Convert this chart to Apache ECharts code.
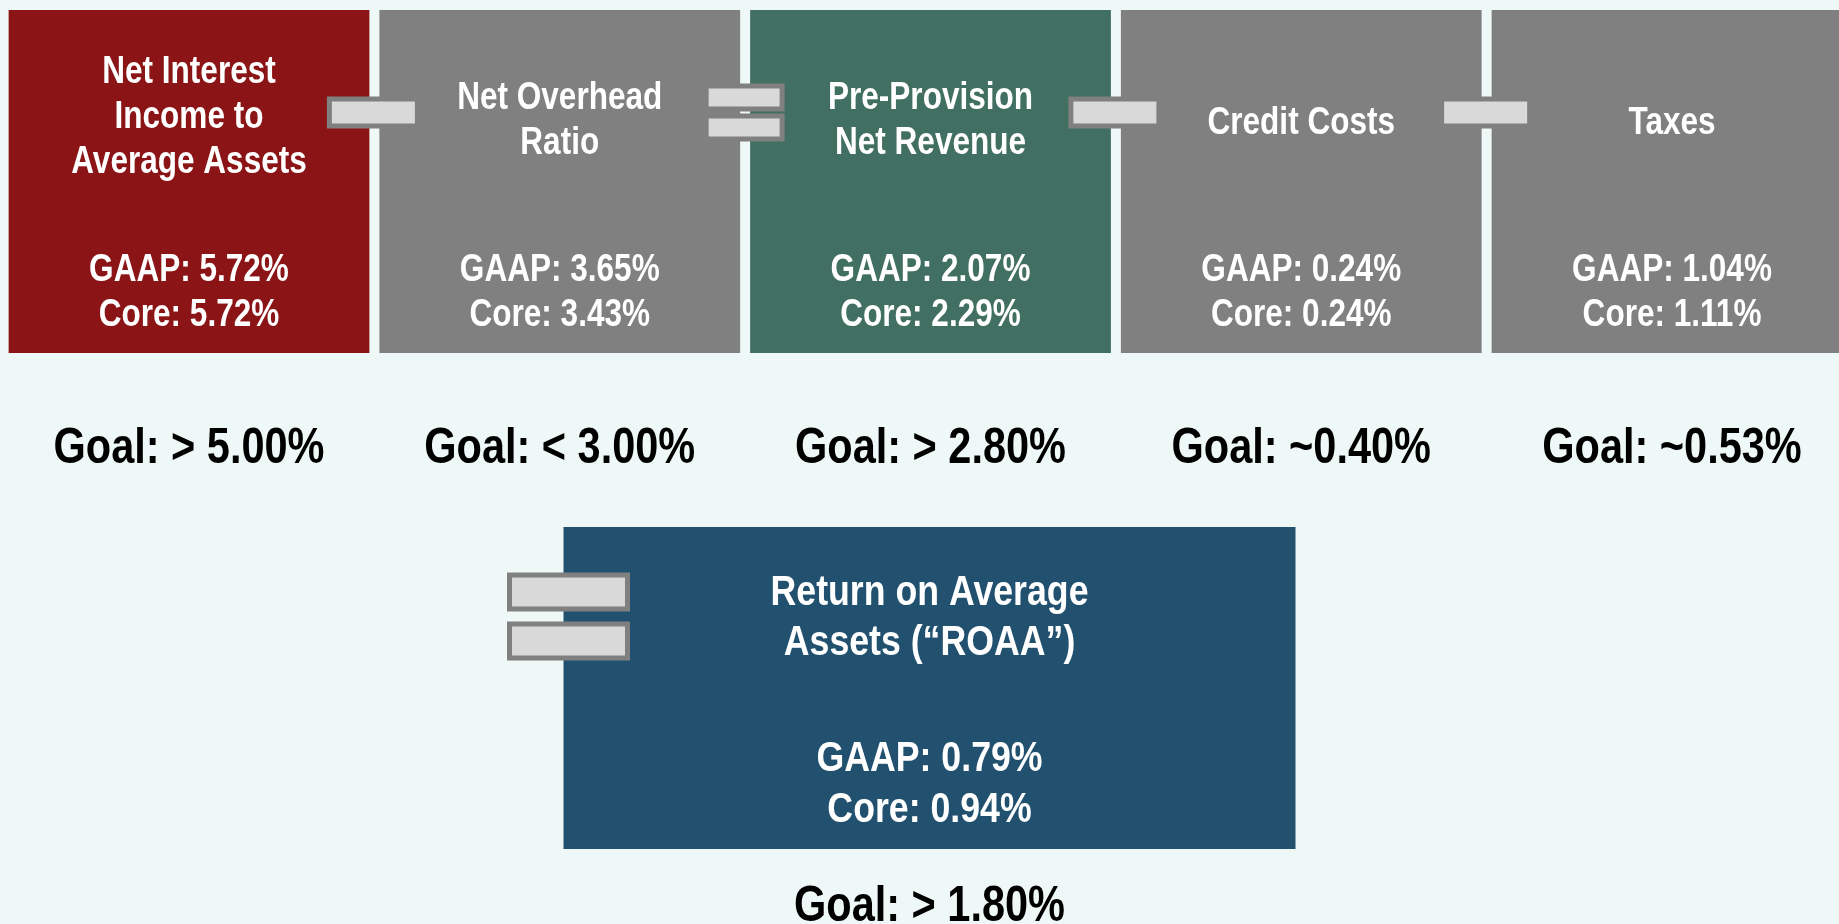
<!DOCTYPE html>
<html>
<head>
<meta charset="utf-8">
<script src="https://cdn.jsdelivr.net/npm/echarts@6/dist/echarts.min.js"></script>
<style>
  html, body { margin: 0; padding: 0; background: #EEF8F6; }
  #main { width: 1839px; height: 924px; }
</style>
</head>
<body>
<div id="main"></div>
<script>
// Metrics of the ROAA build-up, left to right
var metrics = ['Net Interest\nIncome to\nAverage Assets', 'Net Overhead\nRatio', 'Pre-Provision\nNet Revenue', 'Credit Costs', 'Taxes'];
var gaapValues = [5.72, 3.65, 2.07, 0.24, 1.04];
var coreValues = [5.72, 3.43, 2.29, 0.24, 1.11];
var goalLabels = ['> 5.00%', '< 3.00%', '> 2.80%', '~0.40%', '~0.53%'];
// Operator between metric i and metric i + 1
var operators = ['minus', 'equals', 'minus', 'minus'];

// Result
var resultTitle = 'Return on Average\nAssets (\u201cROAA\u201d)';
var resultGaap = [0.79];
var resultCore = [0.94];
var resultGoal = ['> 1.80%'];

// Styles and layout (in the pixel-like units of the hidden y axis)
var boxColors = ['#8B1516', '#808080', '#416F61', '#808080', '#808080'];
var resultColor = '#21516F';
var FONT = '"Liberation Sans", Arial, sans-serif';
var NARROW = 0.83;
var ROW = {
    boxTop: 10, boxBottom: 353, gaap: 271, core: 316, goal: 449, op: 113,
    resTop: 527, resBottom: 849, resTitle: 618, resGaap: 759, resCore: 810, resGoal: 907
};

// Condensed bold text: a regular face squeezed horizontally
function txt(x, y, text, size, color, lineHeight) {
    return {
        type: 'text',
        x: x, y: y, scaleX: NARROW,
        style: {
            x: 0, y: 0, text: text, fill: color,
            fontFamily: FONT, fontWeight: 'bold', fontSize: size,
            lineHeight: lineHeight || size,
            align: 'center', verticalAlign: 'middle'
        }
    };
}

function bar(x, y, w, h) {
    return {
        type: 'rect',
        shape: { x: x, y: y, width: w, height: h },
        style: { fill: '#D9D9D9', stroke: '#808080', lineWidth: 5 }
    };
}

var myChart = echarts.init(document.getElementById('main'));

var option = {
    backgroundColor: '#EEF8F6',
    animation: false,
    grid: { left: 0, top: 0, right: 0, bottom: 0 },
    xAxis: { type: 'value', min: -0.5098, max: 4.4504, show: false },
    yAxis: { type: 'value', min: 0, max: 924, inverse: true, show: false },
    series: [
        {
            // Metric boxes with values and goals
            type: 'custom',
            z: 2,
            data: metrics.map(function (m, i) { return [i, gaapValues[i], coreValues[i]]; }),
            renderItem: function (params, api) {
                var i = api.value(0);
                var cx = api.coord([i, 0])[0];
                var w = api.size([1, 0])[0] - 10;
                var top = api.coord([i, ROW.boxTop])[1];
                var bottom = api.coord([i, ROW.boxBottom])[1];
                // Title block sits a little lower when it has fewer lines
                var lines = metrics[i].split('\n').length;
                var titleY = api.coord([i, 127 - 3 * lines])[1];
                return {
                    type: 'group',
                    children: [
                        { type: 'rect', shape: { x: cx - w / 2, y: top, width: w, height: bottom - top },
                          style: { fill: boxColors[i] } },
                        txt(cx, titleY, metrics[i], 38, '#fff', 45),
                        txt(cx, api.coord([i, ROW.gaap])[1], 'GAAP: ' + api.value(1).toFixed(2) + '%', 38, '#fff'),
                        txt(cx, api.coord([i, ROW.core])[1], 'Core: ' + api.value(2).toFixed(2) + '%', 38, '#fff'),
                        txt(cx, api.coord([i, ROW.goal])[1], 'Goal: ' + goalLabels[i], 50, '#000')
                    ]
                };
            }
        },
        {
            // Operators between boxes
            type: 'custom',
            z: 3,
            data: operators.map(function (op, i) { return [i, op]; }),
            renderItem: function (params, api) {
                var i = api.value(0);
                var op = operators[params.dataIndex];
                var bx = api.coord([i + 0.5, 0])[0] - 2;
                var y = api.coord([i, ROW.op])[1];
                if (op === 'equals') {
                    return {
                        type: 'group',
                        children: [bar(bx - 37, y - 27, 76, 23), bar(bx - 37, y + 3, 76, 23)]
                    };
                }
                return bar(bx - 43, y - 14, 88, 27);
            }
        },
        {
            // Result box
            type: 'custom',
            z: 2,
            data: [[2, resultGaap[0], resultCore[0]]],
            renderItem: function (params, api) {
                var i = api.value(0);
                var cx = api.coord([i, 0])[0] - 1;
                var w = 732;
                var top = api.coord([i, ROW.resTop])[1];
                var bottom = api.coord([i, ROW.resBottom])[1];
                var left = cx - w / 2;
                var ty = api.coord([i, ROW.resTitle])[1];
                return {
                    type: 'group',
                    children: [
                        { type: 'rect', shape: { x: left, y: top, width: w, height: bottom - top },
                          style: { fill: resultColor } },
                        bar(left - 54, ty - 43, 118, 34),
                        bar(left - 54, ty + 6, 118, 34),
                        txt(cx, ty, resultTitle, 43, '#fff', 50),
                        txt(cx, api.coord([i, ROW.resGaap])[1], 'GAAP: ' + api.value(1).toFixed(2) + '%', 43, '#fff'),
                        txt(cx, api.coord([i, ROW.resCore])[1], 'Core: ' + api.value(2).toFixed(2) + '%', 43, '#fff'),
                        txt(cx, api.coord([i, ROW.resGoal])[1], 'Goal: ' + resultGoal[0], 50, '#000')
                    ]
                };
            }
        }
    ]
};
myChart.setOption(option);
</script>
</body>
</html>
